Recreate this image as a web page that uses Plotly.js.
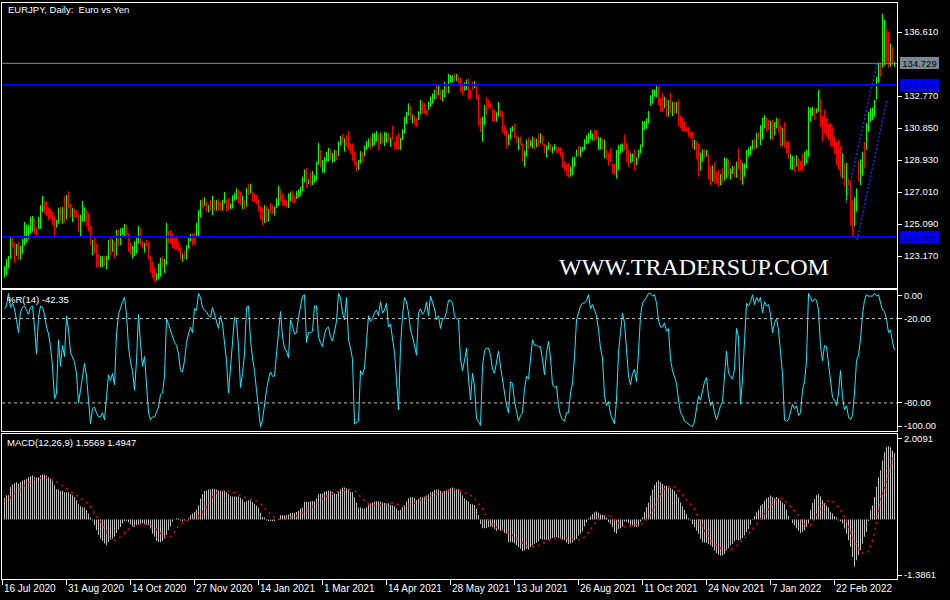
<!DOCTYPE html>
<html><head><meta charset="utf-8">
<script src="https://cdn.plot.ly/plotly-3.0.1.min.js"></script>
<style>html,body{margin:0;padding:0;background:#000;}#chart{width:950px;height:600px;}</style>
</head><body><div id="chart"></div>
<script>
// ---- price bars (daily high / low), direction G = up bar, R = down bar ----
const high = [
122.57,123.0,123.17,124.29,124.29,123.97,123.89,124.01,123.79,124.21,
125.21,125.05,125.05,125.53,125.57,125.39,124.85,125.51,126.23,126.77,
126.47,126.47,126.11,126.01,125.81,125.55,125.33,126.07,126.13,126.13,
126.77,126.85,127.05,126.29,126.05,126.01,125.93,125.67,125.65,126.47,
126.09,125.93,125.75,125.03,124.13,124.27,123.93,123.29,123.17,123.17,
123.17,123.19,124.13,124.27,124.17,124.01,124.73,124.73,124.83,124.87,
125.09,125.03,124.49,123.97,123.77,124.07,124.25,124.97,124.85,124.07,
123.97,124.17,124.01,123.17,122.87,122.47,122.13,122.73,123.07,123.15,
122.99,125.17,124.67,124.73,124.53,124.37,124.41,124.01,123.67,123.31,
123.47,123.83,124.29,124.51,124.55,124.55,125.17,125.93,
126.53,126.63,126.71,126.45,126.23,126.53,126.77,126.53,126.53,126.59,
126.45,126.53,127.01,126.59,126.65,126.33,126.83,126.97,127.23,127.13,
127.03,126.77,126.53,127.25,127.49,127.51,127.03,126.93,126.83,126.53,
126.17,126.09,126.23,126.17,125.99,126.37,126.23,126.13,126.63,127.37,
127.17,126.89,126.57,126.51,126.93,127.03,127.09,126.83,127.07,127.17,
127.33,127.93,128.37,128.45,127.77,128.19,128.27,128.03,128.85,129.97,
129.53,128.93,129.11,129.43,129.65,129.59,129.35,129.53,129.49,130.05,
130.37,130.49,130.23,130.43,130.67,129.93,129.93,129.41,128.85,128.93,
129.47,129.41,129.81,130.07,130.23,130.29,130.53,130.57,130.67,130.49,
130.57,130.43,130.61,130.57,130.55,130.29,130.97,130.09,130.43,130.57,
130.27,130.79,131.53,131.83,132.33,132.17,131.67,131.57,131.47,131.87,
132.53,132.43,132.33,131.97,132.43,132.73,132.93,133.17,133.41,133.49,
133.17,133.17,133.61,133.37,134.09,134.03,134.03,134.13,134.09,133.93,
133.85,133.53,133.57,133.77,133.83,133.13,133.63,133.67,133.55,132.87,
131.47,131.53,132.23,132.73,132.53,132.37,132.03,131.93,131.79,132.41,
131.93,131.87,131.03,130.73,130.47,130.87,130.97,131.09,130.43,130.29,
130.33,129.93,129.49,130.17,130.29,130.11,130.33,130.29,130.21,130.53,
130.53,130.41,129.89,129.81,129.99,129.89,129.73,129.89,129.73,129.73,
129.69,129.43,128.85,128.69,128.75,128.53,129.13,129.13,129.57,129.77,
129.73,129.73,130.17,130.41,130.57,130.73,130.53,130.73,130.73,130.33,
130.29,130.21,130.17,129.53,129.37,129.67,128.73,128.73,129.53,129.83,
129.89,129.93,130.47,129.97,129.53,129.33,129.33,129.57,129.09,129.57,
129.87,131.27,131.27,131.43,131.87,132.81,133.17,133.17,133.41,133.43,
132.67,132.97,132.73,132.63,132.53,132.97,132.43,132.43,132.43,132.57,
131.57,131.47,131.27,130.93,130.93,130.63,
130.63,130.13,130.07,129.93,129.37,129.59,129.57,129.53,129.29,128.57,
128.61,128.79,128.21,128.33,128.09,128.47,129.09,129.03,128.97,128.43,
128.57,128.57,128.83,129.63,128.99,128.77,128.73,129.53,129.69,129.77,
130.13,130.23,130.57,130.63,131.03,131.47,131.63,131.49,131.33,131.29,
131.37,131.21,131.47,131.43,131.01,130.85,131.21,130.07,130.07,129.29,
129.17,129.13,129.23,129.03,
128.89,129.29,129.43,129.53,132.13,132.07,132.13,132.09,132.03,133.13,
132.61,131.59,131.97,131.49,131.09,131.17,130.93,130.33,130.03,130.17,
129.77,129.33,128.73,128.77,127.81,127.73,126.53,126.69,127.23,128.87,
128.97,129.43,130.03,131.13,131.83,132.03,132.09,132.53,133.93,134.77,
134.77,137.69,137.33,136.87,136.63,135.93,135.69,134.83
];
const low = [
121.87,121.99,122.43,123.01,123.67,122.77,123.17,122.97,122.95,123.33,
123.81,123.97,124.19,124.53,124.63,124.47,124.33,124.79,124.81,125.81,
125.71,125.57,125.31,125.41,125.03,124.39,124.87,125.11,125.25,125.11,
125.21,125.37,126.05,125.49,125.21,125.47,125.49,124.61,124.37,125.21,
125.23,124.93,124.67,123.83,123.23,123.35,122.49,122.53,122.49,122.53,
122.57,122.37,122.93,123.21,123.41,123.01,123.21,123.77,123.83,124.43,
124.37,124.39,123.41,123.25,123.03,123.17,123.33,123.93,123.81,123.61,
123.37,123.73,122.99,122.17,121.87,121.57,121.69,121.77,121.93,122.43,
122.15,122.65,123.93,123.91,123.65,123.59,123.59,123.47,122.93,122.83,
122.97,122.95,123.61,124.07,123.81,123.87,124.29,124.33,
125.49,126.01,126.15,125.83,125.79,125.85,125.63,125.89,125.89,125.89,
125.89,125.89,126.33,125.87,125.95,125.99,126.03,126.49,126.57,126.33,
126.23,125.99,125.99,126.13,126.83,126.93,126.41,126.39,126.27,125.87,
125.33,125.03,125.15,125.21,125.23,125.75,125.69,125.61,126.05,126.17,
126.41,126.17,126.19,126.11,126.05,126.47,126.37,126.33,126.59,126.69,
126.79,127.07,127.59,127.27,127.49,127.37,127.43,127.57,127.69,128.65,
128.47,128.17,128.17,128.83,128.87,128.91,128.77,128.83,128.93,129.17,
129.83,129.93,129.43,129.73,129.53,129.29,128.89,128.59,128.25,128.33,
128.73,128.77,129.15,129.53,129.69,129.59,129.73,129.83,130.03,129.53,
129.87,129.93,129.77,129.97,129.95,129.73,130.13,129.57,129.57,129.53,
129.53,130.13,130.51,131.09,131.61,131.33,131.13,131.03,130.93,131.33,
131.67,131.73,131.73,131.63,131.93,132.13,132.33,132.57,132.61,132.81,
132.53,132.47,132.69,132.93,132.93,133.57,133.57,133.63,133.67,133.53,
133.03,132.83,133.09,133.13,132.59,132.61,133.13,133.23,132.59,130.97,
130.61,130.03,131.03,131.63,132.03,132.03,131.23,131.23,131.23,131.53,
131.53,130.57,130.39,129.63,129.83,130.17,130.63,130.27,129.97,129.53,
129.83,128.83,128.53,129.13,129.57,129.73,129.63,129.53,129.69,129.73,
129.93,129.83,129.33,129.09,129.53,129.41,129.33,129.49,129.33,129.43,
129.13,128.49,128.29,128.01,127.87,127.93,128.03,128.53,129.13,129.13,
129.13,129.43,129.53,129.89,129.93,130.17,130.09,130.09,130.13,129.53,
129.57,129.53,129.03,128.99,128.63,128.83,128.13,128.03,127.83,128.33,
129.33,129.43,129.53,128.79,128.53,128.73,128.83,128.29,128.63,129.03,
129.33,129.73,130.73,130.81,131.13,132.17,132.33,132.73,132.69,132.23,
131.83,131.83,132.03,131.53,131.53,131.73,131.57,131.73,131.73,130.97,
130.83,130.67,130.67,130.63,130.33,130.23,
129.63,129.53,128.97,127.93,128.29,128.83,129.03,129.13,127.77,127.43,
127.63,127.57,127.49,127.33,127.41,127.57,127.69,127.83,127.97,127.77,
128.09,127.89,127.87,128.37,127.69,127.45,127.93,128.43,129.13,129.23,
129.57,129.53,129.63,130.13,129.83,130.17,130.83,130.63,130.73,130.17,
130.13,130.41,130.83,130.57,129.73,129.77,129.67,129.33,129.01,128.37,
128.33,128.23,128.53,128.27,
128.29,128.29,128.57,128.73,129.13,131.23,131.57,131.33,131.73,131.83,
130.93,130.03,130.53,130.33,130.13,129.73,129.73,129.29,128.63,128.33,
127.93,127.83,127.33,126.37,127.43,125.03,124.31,124.97,125.83,127.63,
127.43,127.97,128.43,129.53,130.63,131.23,131.33,131.53,132.59,133.57,
133.93,134.47,134.63,134.73,134.47,134.53,134.63,134.53
];
const updown =
  "GGGGRRGRGG"+"GGGGGRRGGG"+"RRRRRRGGRG"+"RGRRGRRRGG"+"GRRRGRRRGG"+"RGGRGRGRGG"+"GRRRGGGGRR"+"GRRRRRGGGR"+"GGRRRRRRRG"+"RGGGRRGG"+
  "GRGRGRGRGR"+"RGGRRGGGGR"+"RGRGRGRRRR"+"RRGRGRRGGG"+"RRRRGGRRGG"+"GGGRGRGGGG"+
  "RGGGGRGGRG"+"GRGRRRRRRG"+"GRGGGRGGGR"+"GRGGRGRRRR"+"GGGGGRGRRG"+"GRRRGGGGRG"+"RGGRGGGRGR"+"RRGGRRRGRR"+"RGGRRRRRGG"+
  "RRRRGGGRRG"+"RRGGRGGRGR"+"GRRGGRGGRR"+"RRRRRGGGGR"+"GGGGGGGRRG"+"GRGRRRRRGG"+"GGRRRGGRGG"+"GGGGGGGGGR"+"RRGRGRGRGR"+"RRRRRR"+
  "RGRRGGRGRR"+"GRRRGRGGRG"+"GRGRRGGGGG"+"GRGRGGGRRG"+"RGGRRGRRRG"+"GRGR"+
  "RRGGGGGRGG"+"RRRRRRRRRR"+"RGRGRRRGGR"+"GGRGGGGGGG"+"RGGRRGRG";

// ---- Williams %R(14) ----
const williamsR = [
-13,-11,-2,-12,-9,-13,-21,-30,-15,-12,
-11,-14,-17,-12,-11,-26,-45,-19,-11,-12,
-17,-26,-31,-40,-54,-77,-73,-35,-54,-39,
-47,-18,-28,-44,-47,-51,-59,-80,-71,-61,
-52,-61,-76,-95,-84,-83,-87,-90,-90,-87,
-92,-78,-60,-64,-59,-67,-31,-17,-12,-8,
-5,-17,-40,-51,-57,-71,-50,-17,-38,-54,
-47,-64,-87,-92,-90,-90,-87,-83,-74,-73,
-61,-20,-24,-28,-32,-37,-39,-45,-57,-58,
-50,-37,-31,-26,-30,-13,-14,-2,-5,-12,
-14,-15,-18,-19,-12,-18,-22,-27,-18,-24,
-38,-50,-73,-54,-35,-19,-21,-40,-69,-59,
-45,-12,-11,-35,-48,-57,-71,-84,-97,-92,
-80,-71,-63,-58,-61,-61,-45,-28,-15,-33,
-41,-43,-48,-21,-25,-31,-30,-19,-11,-4,
-3,-37,-30,-30,-29,-11,-11,-33,-37,-40,
-31,-27,-26,-33,-36,-30,-22,-2,-5,-16,
-21,-5,-35,-41,-49,-95,-94,-93,-57,-60,
-55,-33,-18,-22,-20,-16,-14,-18,-8,-16,
-14,-9,-26,-24,-33,-44,-63,-85,-40,-18,
-5,-8,-16,-28,-33,-40,-46,-16,-13,-17,
-15,-8,-18,-4,-8,-13,-21,-18,-27,-20,
-20,-15,-7,-7,-9,-18,-20,-21,-49,-57,
-50,-41,-63,-78,-59,-68,-91,-94,-96,-54,
-43,-41,-41,-46,-56,-59,-50,-43,-54,-63,
-73,-82,-87,-65,-66,-79,-86,-93,-89,-87,
-70,-61,-63,-49,-35,-39,-39,-40,-40,-49,
-60,-44,-36,-48,-67,-69,-68,-82,-89,-92,
-93,-87,-87,-73,-66,-47,-21,-16,-11,-9,
-9,-7,-3,-13,-10,-14,-18,-28,-41,-48,
-75,-82,-79,-88,-92,-95,-78,-44,-30,-16,
-23,-42,-61,-67,-59,-56,-65,-44,-18,-9,
-7,-5,-2,-2,-4,-3,-9,-21,-26,-26,
-23,-29,-27,-49,-57,-61,-66,-78,-87,-89,
-93,-94,-95,-96,-97,-93,-82,-75,-78,-70,
-65,-62,-75,-82,-79,-87,-92,-87,-82,-79,
-63,-43,-59,-61,-63,-56,-27,-33,-81,-63,
-35,-9,-11,-8,-3,-10,-5,-8,-5,-16,
-8,-11,-10,-17,-30,-23,-20,-28,-44,-59,
-92,-93,-92,-86,-81,-84,-82,-89,-87,-71,
-65,-50,-2,-5,-8,-6,-7,-14,-40,-50,
-39,-40,-52,-64,-76,-78,-82,-73,-57,-76,
-85,-82,-90,-92,-89,-73,-50,-46,-35,-17,
-7,-3,-4,-4,-4,-2,-4,-3,-8,-14,
-15,-20,-30,-28,-37,-42.35
];

// ---- MACD(12,26,9): main (histogram) and signal ----
const macdMain = [
0.51,0.57,0.57,0.76,0.82,0.85,0.88,0.84,0.88,0.91,
0.93,0.95,0.99,1.01,1.03,0.99,0.98,0.99,1.03,1.05,
1.05,1.03,0.99,0.95,0.91,0.80,0.71,0.70,0.67,0.68,
0.64,0.64,0.64,0.60,0.57,0.53,0.45,0.37,0.31,0.29,
0.28,0.22,0.14,0.05,-0.02,-0.13,-0.25,-0.36,-0.44,-0.50,
-0.56,-0.60,-0.52,-0.47,-0.44,-0.40,-0.31,-0.23,-0.17,-0.09,
-0.04,-0.03,-0.06,-0.11,-0.16,-0.17,-0.13,-0.11,-0.09,-0.09,
-0.10,-0.11,-0.13,-0.21,-0.33,-0.40,-0.50,-0.52,-0.52,-0.50,
-0.44,-0.36,-0.25,-0.16,-0.05,0.01,0.03,0.03,-0.02,-0.03,
-0.02,0.00,0.03,0.10,0.14,0.18,0.23,0.33,0.49,0.59,
0.67,0.68,0.70,0.70,0.72,0.72,0.70,0.68,0.67,0.68,
0.67,0.64,0.60,0.54,0.54,0.54,0.54,0.54,0.51,0.47,
0.41,0.43,0.45,0.45,0.41,0.37,0.33,0.28,0.16,0.06,
0.05,-0.02,-0.03,-0.03,-0.03,-0.03,0.00,0.02,0.10,0.10,
0.10,0.10,0.12,0.14,0.16,0.16,0.18,0.20,0.26,0.28,
0.41,0.41,0.41,0.43,0.43,0.43,0.49,0.59,0.61,0.61,
0.65,0.67,0.68,0.67,0.65,0.61,0.60,0.67,0.71,0.75,
0.75,0.73,0.70,0.65,0.64,0.52,0.40,0.28,0.28,0.26,
0.26,0.29,0.34,0.38,0.40,0.42,0.43,0.43,0.42,0.40,
0.39,0.39,0.38,0.34,0.33,0.31,0.26,0.21,0.23,0.29,
0.33,0.42,0.50,0.52,0.52,0.50,0.46,0.48,0.52,0.52,
0.54,0.56,0.59,0.64,0.65,0.69,0.70,0.70,0.67,0.65,
0.67,0.68,0.71,0.73,0.75,0.73,0.71,0.70,0.64,0.56,
0.50,0.46,0.42,0.36,0.36,0.34,0.26,0.11,-0.10,-0.20,
-0.20,-0.20,-0.18,-0.16,-0.18,-0.22,-0.26,-0.23,-0.26,-0.26,
-0.31,-0.33,-0.53,-0.53,-0.53,-0.55,-0.60,-0.64,-0.68,-0.74,
-0.72,-0.68,-0.70,-0.64,-0.60,-0.57,-0.54,-0.51,-0.45,-0.47,
-0.47,-0.47,-0.47,-0.45,-0.43,-0.41,-0.41,-0.43,-0.45,-0.47,
-0.47,-0.53,-0.57,-0.55,-0.53,-0.49,-0.45,-0.37,-0.33,-0.28,
-0.16,-0.06,0.03,0.07,0.13,0.17,0.19,0.16,0.12,0.11,
0.11,0.05,-0.06,-0.10,-0.18,-0.29,-0.33,-0.22,-0.20,-0.16,
-0.05,-0.05,-0.08,-0.14,-0.14,-0.16,-0.18,-0.16,-0.05,0.05,
0.17,0.29,0.40,0.56,0.70,0.81,0.88,0.91,0.87,0.83,
0.79,0.79,0.75,0.73,0.71,0.67,0.60,0.52,0.40,0.31,
0.23,0.13,0.03,-0.02,-0.10,-0.18,-0.26,-0.33,-0.45,-0.53,
-0.54,-0.54,-0.57,-0.60,-0.64,-0.72,-0.78,-0.82,-0.84,-0.84,
-0.80,-0.72,-0.67,-0.60,-0.57,-0.51,-0.47,-0.49,-0.47,-0.43,
-0.37,-0.29,-0.22,-0.12,-0.01,0.08,0.17,0.23,0.33,0.36,
0.44,0.50,0.52,0.56,0.53,0.50,0.53,0.50,0.44,0.40,
0.36,0.23,0.09,0.01,-0.08,-0.14,-0.20,-0.26,-0.31,-0.29,
-0.25,-0.17,-0.09,0.22,0.39,0.48,0.57,0.60,0.54,0.45,
0.39,0.33,0.29,0.18,0.14,0.08,0.05,-0.02,-0.03,-0.09,
-0.21,-0.33,-0.48,-0.64,-0.87,-1.10,-0.95,-0.83,-0.71,-0.56,
-0.40,-0.29,-0.03,0.22,0.33,0.53,0.76,0.99,1.15,1.38,
1.57,1.69,1.71,1.69,1.61,1.5569
];
const macdSignal = [
0.44,0.47,0.49,0.51,0.57,0.60,0.64,0.68,0.72,0.76,
0.79,0.83,0.86,0.89,0.91,0.94,0.95,0.95,0.97,0.98,
0.99,0.98,0.98,0.96,0.94,0.91,0.89,0.87,0.84,0.81,
0.78,0.74,0.70,0.66,0.63,0.60,0.57,0.53,0.50,0.47,
0.43,0.40,0.36,0.29,0.23,0.16,0.08,0.00,-0.05,-0.13,
-0.21,-0.31,-0.39,-0.44,-0.47,-0.48,-0.47,-0.44,-0.40,-0.36,
-0.31,-0.26,-0.22,-0.19,-0.16,-0.14,-0.13,-0.12,-0.12,-0.11,
-0.11,-0.11,-0.12,-0.13,-0.16,-0.19,-0.23,-0.28,-0.33,-0.36,
-0.40,-0.43,-0.43,-0.40,-0.35,-0.29,-0.21,-0.14,-0.10,-0.06,
-0.05,-0.03,-0.02,0.00,0.01,0.02,0.05,0.07,0.11,0.17,
0.23,0.30,0.38,0.45,0.52,0.58,0.62,0.64,0.66,0.67,
0.67,0.67,0.66,0.65,0.64,0.63,0.60,0.58,0.57,0.54,
0.52,0.50,0.48,0.47,0.45,0.43,0.43,0.41,0.37,0.33,
0.28,0.22,0.17,0.13,0.09,0.05,0.02,0.01,0.00,0.00,
0.01,0.02,0.02,0.04,0.05,0.07,0.09,0.12,0.14,0.16,
0.19,0.21,0.24,0.27,0.29,0.32,0.34,0.39,0.44,0.48,
0.51,0.54,0.56,0.58,0.60,0.63,0.64,0.66,0.67,0.68,
0.69,0.70,0.70,0.70,0.69,0.67,0.64,0.60,0.53,0.48,
0.43,0.40,0.36,0.36,0.35,0.34,0.34,0.34,0.34,0.36,
0.37,0.38,0.39,0.39,0.38,0.38,0.36,0.35,0.34,0.33,
0.32,0.31,0.33,0.34,0.36,0.38,0.41,0.44,0.46,0.48,
0.50,0.51,0.53,0.56,0.57,0.58,0.60,0.61,0.63,0.64,
0.65,0.67,0.67,0.68,0.69,0.70,0.70,0.69,0.68,0.67,
0.64,0.62,0.60,0.57,0.53,0.50,0.43,0.37,0.32,0.26,
0.17,0.05,-0.02,-0.08,-0.13,-0.16,-0.19,-0.20,-0.22,-0.23,
-0.25,-0.27,-0.29,-0.33,-0.36,-0.40,-0.43,-0.49,-0.52,-0.55,
-0.58,-0.60,-0.63,-0.64,-0.64,-0.64,-0.63,-0.60,-0.58,-0.56,
-0.53,-0.51,-0.49,-0.47,-0.45,-0.43,-0.43,-0.43,-0.43,-0.43,
-0.43,-0.43,-0.45,-0.46,-0.47,-0.47,-0.47,-0.47,-0.47,-0.43,
-0.41,-0.36,-0.29,-0.22,-0.16,-0.09,-0.04,0.02,0.05,0.08,
0.10,0.11,0.09,0.07,0.05,0.00,-0.05,-0.09,-0.12,-0.15,
-0.16,-0.16,-0.16,-0.16,-0.15,-0.14,-0.12,-0.12,-0.11,-0.09,
-0.05,0.02,0.07,0.12,0.19,0.28,0.43,0.51,0.60,0.67,
0.73,0.78,0.78,0.78,0.78,0.78,0.73,0.68,0.63,0.58,
0.53,0.48,0.43,0.37,0.31,0.24,0.14,0.04,-0.06,-0.17,
-0.26,-0.32,-0.40,-0.47,-0.51,-0.56,-0.60,-0.64,-0.67,-0.70,
-0.72,-0.71,-0.71,-0.70,-0.67,-0.64,-0.60,-0.57,-0.52,-0.48,
-0.45,-0.39,-0.34,-0.29,-0.22,-0.16,-0.09,-0.03,0.02,0.07,
0.13,0.20,0.26,0.33,0.39,0.43,0.46,0.48,0.49,0.50,
0.46,0.41,0.36,0.31,0.26,0.21,0.16,0.09,0.01,-0.06,
-0.11,-0.14,-0.15,-0.12,-0.04,0.02,0.12,0.18,0.25,0.33,
0.39,0.43,0.44,0.45,0.43,0.39,0.35,0.29,0.23,0.16,
0.07,-0.03,-0.17,-0.29,-0.40,-0.52,-0.60,-0.67,-0.73,-0.78,
-0.79,-0.79,-0.73,-0.62,-0.48,-0.29,-0.02,0.22,0.45,0.60,
0.76,0.95,1.11,1.24,1.38,1.4947
];

// ---- axis labels / levels ----
const dateLabels = ["16 Jul 2020","31 Aug 2020","14 Oct 2020","27 Nov 2020","14 Jan 2021","1 Mar 2021",
  "14 Apr 2021","28 May 2021","13 Jul 2021","26 Aug 2021","11 Oct 2021","24 Nov 2021","7 Jan 2022","22 Feb 2022"];
const priceTicks = [123.17,125.09,127.01,128.93,130.85,132.77,136.61];
const lastPrice = 134.729;
const levelHigh = 133.432;
const levelLow = 124.308;
const trendA = {bar:[420.8,436.3], price:[126.41,134.81]};
const trendB = {bar:[426.3,441.3], price:[124.13,132.59]};
const wrLevels = [-20,-80];

// ---- build ----
const idx = high.map((_, i) => i);
const isUp = updown.split('').map(c => c === 'G');
const open = high.map((h, i) => isUp[i] ? low[i] : h);
const close = high.map((h, i) => isUp[i] ? h : low[i]);
const FONT = 'Liberation Sans, Arial, sans-serif';
const xr = [-1.25, 446.25];

const traces = [
  {type:'ohlc', x:idx, open:open, high:high, low:low, close:close, xaxis:'x', yaxis:'y',
   increasing:{line:{color:'#00ff00', width:1}}, decreasing:{line:{color:'#ff0000', width:1}},
   tickwidth:0, hoverinfo:'skip', showlegend:false},
  {type:'scatter', mode:'lines', x:idx, y:williamsR, xaxis:'x2', yaxis:'y2',
   line:{color:'#1ee8ff', width:1}, hoverinfo:'skip', showlegend:false},
  {type:'bar', x:idx, y:macdMain, width:0.5, xaxis:'x3', yaxis:'y3',
   marker:{color:'#c0c0c0', line:{width:0}}, hoverinfo:'skip', showlegend:false},
  {type:'scatter', mode:'lines', x:idx, y:macdSignal, xaxis:'x3', yaxis:'y3',
   line:{color:'#ff0000', width:1.5, dash:'2px,4px'}, hoverinfo:'skip', showlegend:false}
];

function xAxis(anchor, withLabels) {
  const a = {anchor:anchor, range:xr, showgrid:false, zeroline:false, showline:true, mirror:true,
    linecolor:'#ffffff', linewidth:1, fixedrange:true, rangeslider:{visible:false}};
  if (withLabels) {
    Object.assign(a, {tickmode:'array', tickvals:dateLabels.map((_, i) => i*32 - 0.8), ticktext:dateLabels,
      ticks:'outside', ticklen:5, tickcolor:'#ffffff', tickwidth:1, tickangle:0, automargin:false,
      ticklabelposition:'outside right', ticklabeloverflow:'allow',
      tickfont:{family:FONT, size:10, color:'#ffffff'}});
  } else {
    Object.assign(a, {showticklabels:false, ticks:''});
  }
  return a;
}
function yAxis(anchor, domain, range, vals, texts) {
  return {anchor:anchor, domain:domain, range:range, side:'right', showgrid:false, zeroline:false,
    showline:true, mirror:true, linecolor:'#ffffff', linewidth:1, fixedrange:true,
    tickmode:'array', tickvals:vals, ticktext:texts, ticks:'outside', ticklen:4, tickcolor:'#ffffff',
    tickfont:{family:FONT, size:9.5, color:'#ffffff'}};
}

const trendStyle = {color:'#2a2aff', width:1.4, dash:'2px,2px'};
const shapes = [
  {type:'line', xref:'x domain', x0:0, x1:1, yref:'y', y0:lastPrice, y1:lastPrice, line:{color:'#7a8a9a', width:1}},
  {type:'line', xref:'x domain', x0:0, x1:1, yref:'y', y0:levelHigh, y1:levelHigh, line:{color:'#0000ff', width:2}},
  {type:'line', xref:'x domain', x0:0, x1:1, yref:'y', y0:levelLow, y1:levelLow, line:{color:'#0000ff', width:2}},
  {type:'line', layer:'above', xref:'x', yref:'y', x0:trendA.bar[0], x1:trendA.bar[1], y0:trendA.price[0], y1:trendA.price[1], line:trendStyle},
  {type:'line', layer:'above', xref:'x', yref:'y', x0:trendB.bar[0], x1:trendB.bar[1], y0:trendB.price[0], y1:trendB.price[1], line:trendStyle}
].concat(wrLevels.map(v => ({type:'line', xref:'x2 domain', x0:0, x1:1, yref:'y2', y0:v, y1:v, line:{color:'#c0c0c0', width:1, dash:'3px,3px'}})));

function priceBox(v, bg, fg) {
  return {xref:'paper', x:1, xanchor:'left', xshift:3, yref:'y', y:v, yanchor:'middle', text:v.toFixed(3),
    showarrow:false, bgcolor:bg, borderpad:1, borderwidth:0, width:37, height:10,
    font:{family:FONT, size:9.5, color:fg}};
}
const annotations = [
  priceBox(lastPrice, '#7a8a9a', '#000000'),
  priceBox(levelHigh, '#0000ff', '#000070'),
  priceBox(levelLow, '#0000ff', '#000070'),
  {xref:'paper', yref:'paper', x:0.005, y:0.9885, xanchor:'left', yanchor:'middle', showarrow:false,
   text:'EURJPY, Daily:\u00a0 Euro vs Yen', font:{family:FONT, size:9.5, color:'#ffffff'}},
  {xref:'paper', yref:'paper', x:0.003, y:0.486, xanchor:'left', yanchor:'middle', showarrow:false,
   text:'%R(14) -42.35', font:{family:FONT, size:9.5, color:'#ffffff'}},
  {xref:'paper', yref:'paper', x:0.003, y:0.237, xanchor:'left', yanchor:'middle', showarrow:false,
   text:'MACD(12,26,9) 1.5569 1.4947', font:{family:FONT, size:9.5, color:'#ffffff'}},
  {xref:'paper', yref:'paper', x:0.62, y:0.5417, xanchor:'left', yanchor:'middle', showarrow:false,
   text:'WWW.TRADERSUP.COM', font:{family:'Liberation Serif, Times New Roman, serif', size:24, color:'#ffffff'}}
];

const layout = {
  width:950, height:600, paper_bgcolor:'#000000', plot_bgcolor:'#000000',
  margin:{l:2, r:53, t:3, b:21}, showlegend:false, dragmode:false, hovermode:false,
  xaxis: xAxis('y', false),
  xaxis2: xAxis('y2', false),
  xaxis3: xAxis('y3', true),
  yaxis: yAxis('x', [0.5052, 1], [121.25, 138.35], priceTicks, priceTicks.map(v => v.toFixed(3))),
  yaxis2: yAxis('x2', [0.2569, 0.5009], [-100, 0], [-3.5, -20, -80, -96.5], ['0.00','-20.00','-80.00','-100.00']),
  yaxis3: yAxis('x3', [0, 0.2526], [-1.3861, 2.0091], [1.893, -1.293], ['2.0091','-1.3861']),
  shapes: shapes, annotations: annotations
};

Plotly.newPlot('chart', traces, layout, {displayModeBar:false, staticPlot:true});
</script>
</body></html>
